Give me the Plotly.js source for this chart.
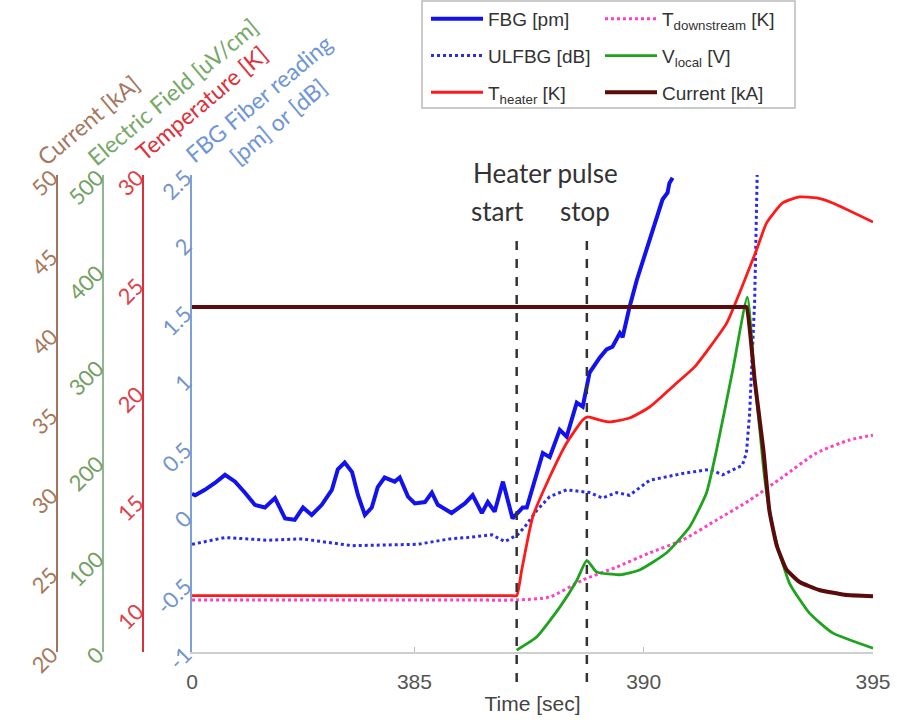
<!DOCTYPE html>
<html>
<head>
<meta charset="utf-8">
<script src="https://cdn.plot.ly/plotly-3.0.1.min.js"></script>
<style>
  html, body { margin: 0; padding: 0; background: #fff; }
  #chart { width: 897px; height: 723px; }
</style>
</head>
<body>
<div id="chart"></div>
<script>
// ---------- DATA ----------
const fbgTime = [380.15,380.22,380.43,380.65,380.87,381.09,381.30,381.52,381.74,381.96,382.18,382.39,382.57,382.76,382.98,383.20,383.33,383.48,383.64,383.77,383.92,384.07,384.20,384.35,384.57,384.68,384.86,385.01,385.23,385.38,385.51,385.81,386.10,386.27,386.47,386.60,386.75,386.93,387.14,387.36,387.45,387.80,387.95,388.17,388.32,388.54,388.67,388.82,389.04,389.19,389.32,389.48,389.54,389.69,389.85,390.06,390.19,390.41,390.52,390.56,390.63];
const fbgValue = [0.16,0.15,0.19,0.24,0.30,0.25,0.17,0.08,0.06,0.13,-0.02,-0.03,0.06,0.005,0.08,0.19,0.34,0.39,0.32,0.15,0.005,0.06,0.21,0.28,0.25,0.28,0.14,0.09,0.10,0.17,0.08,0.02,0.09,0.15,0.02,0.10,0.03,0.25,-0.02,0.06,0.06,0.46,0.43,0.63,0.58,0.83,0.80,1.05,1.16,1.22,1.24,1.34,1.31,1.53,1.73,1.95,2.07,2.32,2.37,2.44,2.48];

const ulfbgTime = [380.15,380.87,381.81,382.55,383.64,385.07,385.77,386.16,386.69,386.97,387.25,387.41,387.67,387.95,388.32,388.82,389.10,389.41,389.69,390.13,390.85,391.44,391.72,392.15,392.24,392.31,392.42,392.48];
const ulfbgValue = [-0.21,-0.16,-0.18,-0.17,-0.22,-0.21,-0.17,-0.16,-0.14,-0.19,-0.14,-0.08,0.04,0.14,0.19,0.17,0.13,0.17,0.15,0.26,0.31,0.34,0.30,0.37,0.46,0.75,1.58,2.6];

const heaterTime = [380.15,381.5,383.0,384.5,386.0,386.8,387.1,387.23,387.34,387.58,387.95,388.32,388.67,388.78,389.04,389.26,389.69,390.13,390.72,391.11,391.81,392.09,392.46,392.68,393.03,393.40,393.77,394.12,395.0];
const heaterTemp = [10.6,10.6,10.6,10.6,10.6,10.6,10.6,10.6,11.78,14.23,16.07,17.64,18.7,18.84,18.7,18.61,18.79,19.3,20.41,21.15,23.17,24.56,26.54,27.79,28.71,28.99,28.94,28.71,27.83];

const downTime = [380.15,381.5,383.0,384.5,386.0,387.23,387.95,388.67,389.41,390.13,390.85,391.59,392.31,393.03,393.77,394.49,395.0];
const downTemp = [10.4,10.4,10.4,10.4,10.4,10.4,10.54,11.32,11.92,12.57,13.17,14.09,15.0,16.07,17.18,17.78,18.0];

const vlocalTime = [387.23,387.67,388.17,388.54,388.76,388.97,389.48,389.91,390.50,391.00,391.37,391.59,391.94,392.26,392.42,392.53,392.63,392.74,392.90,393.18,393.61,394.12,395.0];
const vlocalField = [2,16,47,75,96,84,81,86,104,131,167,212,295,372,285,233,185,149,114,72,41,20,4];

const currentTime = [380.15,381.5,383.0,384.5,386.0,387.5,389.0,390.5,391.5,392.0,392.15,392.24,392.42,392.61,392.74,392.90,393.11,393.40,393.83,394.38,395.0];
const currentKA = [41.7,41.7,41.7,41.7,41.7,41.7,41.7,41.7,41.7,41.7,41.7,41.7,37.1,32.7,28.9,26.7,25.2,24.4,23.9,23.6,23.5];

const eventTimes = [387.23, 388.76];

const xTickVals = [380.15, 385, 390, 395];
const xTickText = ['0', '385', '390', '395'];
const fbgTicks = [-1, -0.5, 0, 0.5, 1, 1.5, 2, 2.5];
const fbgTickText = ['-1', '-0.5', '0', '0.5', '1', '1.5', '2', '2.5'];
const tempTicks = [10, 15, 20, 25, 30];
const fieldTicks = [0, 100, 200, 300, 400, 500];
const currentTicks = [20, 25, 30, 35, 40, 45, 50];

// ---------- GEOMETRY HELPERS ----------
const W = 897, H = 723;
const mL = 0, mR = 24, mT = 175, mB = 71;
const pw = W - mL - mR, ph = H - mT - mB;
const px = x => (x - mL) / pw;          // pixel x -> paper x
const py = y => (H - mB - y) / ph;      // pixel y -> paper y

const calib = 'Lato, "Open Sans", sans-serif';
const arial = '"Liberation Sans", Arial, sans-serif';

const traces = [
  { x: ulfbgTime, y: ulfbgValue, name: 'ULFBG [dB]', yaxis: 'y', mode: 'lines',
    line: { color: '#2b2bea', width: 3, dash: 'dot' }, legend: 'legend', legendgroup: 'b', legendrank: 2 },
  { x: downTime, y: downTemp, name: 'T<sub>downstream</sub> [K]', yaxis: 'y2', mode: 'lines',
    line: { color: '#ff3fc8', width: 3, dash: 'dot', shape: 'spline', smoothing: 0.6 }, legend: 'legend2', legendgroup: 'd', legendrank: 1 },
  { x: heaterTime, y: heaterTemp, name: 'T<sub>heater</sub> [K]', yaxis: 'y2', mode: 'lines',
    line: { color: '#ff1a1a', width: 2.8, shape: 'spline', smoothing: 0.5 }, legend: 'legend', legendgroup: 'c', legendrank: 3 },
  { x: vlocalTime, y: vlocalField, name: 'V<sub>local</sub> [V]', yaxis: 'y3', mode: 'lines',
    line: { color: '#1fa31f', width: 2.8, shape: 'spline', smoothing: 0.5 }, legend: 'legend2', legendgroup: 'e', legendrank: 2 },
  { x: fbgTime, y: fbgValue, name: 'FBG [pm]', yaxis: 'y', mode: 'lines',
    line: { color: '#1212ee', width: 4 }, legend: 'legend', legendgroup: 'a', legendrank: 1 },
  { x: currentTime, y: currentKA, name: 'Current [kA]', yaxis: 'y4', mode: 'lines',
    line: { color: '#5a0c0c', width: 4, shape: 'spline', smoothing: 0.4 }, legend: 'legend2', legendgroup: 'f', legendrank: 3 }
];

const yCommon = {
  showgrid: false, zeroline: false, showline: true, linewidth: 2,
  ticks: '', tickangle: -45, automargin: false
};

const legendCommon = {
  xanchor: 'left', yanchor: 'top', bgcolor: 'rgba(0,0,0,0)', borderwidth: 0,
  tracegroupgap: 9, itemwidth: 52,
  font: { family: arial, size: 19, color: '#333' }, traceorder: 'grouped'
};

const layout = {
  width: W, height: H,
  margin: { l: mL, r: mR, t: mT, b: mB, pad: 0 },
  paper_bgcolor: '#fff', plot_bgcolor: 'rgba(0,0,0,0)',
  showlegend: true,
  xaxis: {
    domain: [px(192), 1], range: [380.15, 395], anchor: 'y',
    showgrid: false, zeroline: false, showline: true, linecolor: '#cfcfcf', linewidth: 2,
    ticks: 'inside', ticklen: 5, tickcolor: '#bdbdbd', ticklabelstandoff: 10,
    tickvals: xTickVals, ticktext: xTickText,
    tickfont: { family: arial, size: 21, color: '#555' },
    title: { text: 'Time [sec]', font: { family: arial, size: 21, color: '#444' }, standoff: 4 },
    automargin: false
  },
  yaxis: Object.assign({}, yCommon, {
    range: [-1, 2.5], anchor: 'x', linecolor: '#7f9fd9',
    tickvals: fbgTicks, ticktext: fbgTickText,
    tickfont: { family: calib, size: 22, color: '#7294cc' }
  }),
  yaxis2: Object.assign({}, yCommon, {
    range: [8, 30], overlaying: 'y', anchor: 'free', side: 'left', position: px(143),
    linecolor: '#d9303a', tickvals: tempTicks,
    tickfont: { family: calib, size: 22, color: '#e0404a' }
  }),
  yaxis3: Object.assign({}, yCommon, {
    range: [0, 500], overlaying: 'y', anchor: 'free', side: 'left', position: px(103),
    linecolor: '#93b592', tickvals: fieldTicks,
    tickfont: { family: calib, size: 22, color: '#72a062' }
  }),
  yaxis4: Object.assign({}, yCommon, {
    range: [20, 50], overlaying: 'y', anchor: 'free', side: 'left', position: px(57),
    linecolor: '#a3755f', tickvals: currentTicks,
    tickfont: { family: calib, size: 22, color: '#a8775a' }
  }),
  legend: Object.assign({}, legendCommon, { x: px(426), y: py(0) }),
  legend2: Object.assign({}, legendCommon, { x: px(600), y: py(0) }),
  shapes: eventTimes.map(t => ({
    type: 'line', xref: 'x', yref: 'paper', x0: t, x1: t, y0: py(682), y1: py(235),
    line: { color: '#333', width: 2.5, dash: 'dash' }
  })).concat([{
    type: 'rect', xref: 'paper', yref: 'paper', x0: px(422), x1: px(795), y0: py(108), y1: py(1),
    line: { color: '#bbbbbb', width: 1.5 }, fillcolor: 'rgba(0,0,0,0)'
  }]),
  annotations: [
    { text: 'Heater pulse', x: px(545), y: py(173), xref: 'paper', yref: 'paper', showarrow: false,
      xanchor: 'center', yanchor: 'middle', font: { family: calib, size: 26, color: '#333' } },
    { text: 'start', x: px(497), y: py(211), xref: 'paper', yref: 'paper', showarrow: false,
      xanchor: 'center', yanchor: 'middle', font: { family: calib, size: 26, color: '#333' } },
    { text: 'stop', x: px(585), y: py(211), xref: 'paper', yref: 'paper', showarrow: false,
      xanchor: 'center', yanchor: 'middle', font: { family: calib, size: 26, color: '#333' } },
    { text: 'Current [kA]', x: px(88), y: py(120), xref: 'paper', yref: 'paper', showarrow: false,
      textangle: -40, xanchor: 'center', yanchor: 'middle', font: { family: calib, size: 23, color: '#a8775f' } },
    { text: 'Electric Field [uV/cm]', x: px(172), y: py(92), xref: 'paper', yref: 'paper', showarrow: false,
      textangle: -40, xanchor: 'center', yanchor: 'middle', font: { family: calib, size: 23, color: '#76a867' } },
    { text: 'Temperature [K]', x: px(201), y: py(103), xref: 'paper', yref: 'paper', showarrow: false,
      textangle: -40, xanchor: 'center', yanchor: 'middle', font: { family: calib, size: 23, color: '#e0303a' } },
    { text: 'FBG Fiber reading<br>[pm] or [dB]', x: px(268), y: py(110), xref: 'paper', yref: 'paper', showarrow: false,
      textangle: -40, xanchor: 'center', yanchor: 'middle', align: 'center',
      font: { family: calib, size: 23, color: '#7095d8' } }
  ]
};

Plotly.newPlot('chart', traces, layout, { displayModeBar: false, staticPlot: true });
</script>
</body>
</html>
